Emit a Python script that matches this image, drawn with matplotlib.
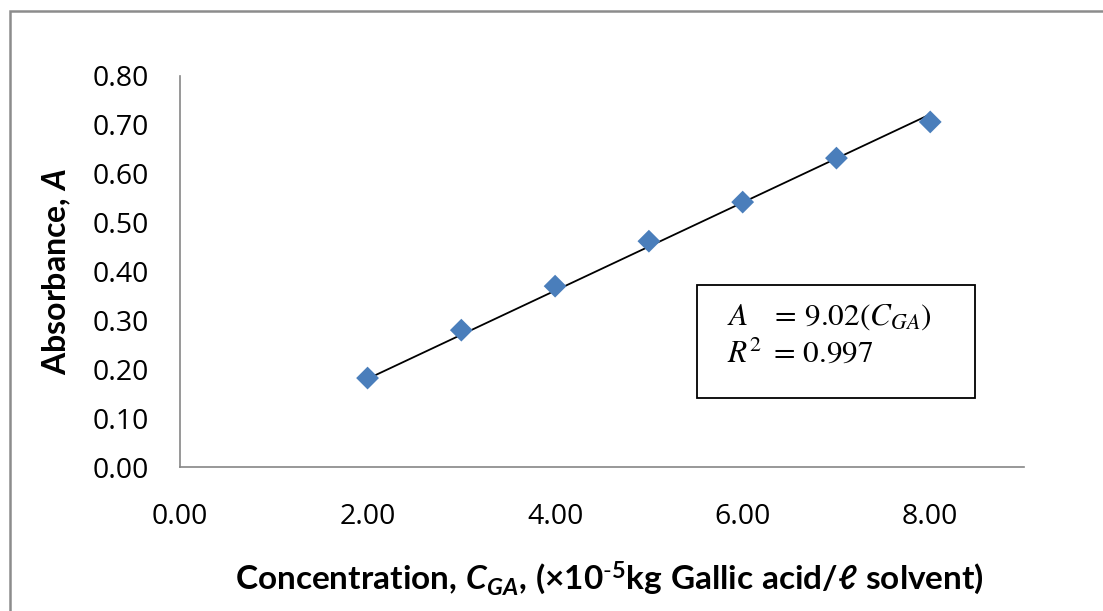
import matplotlib
matplotlib.use("Agg")
import matplotlib.pyplot as plt
from matplotlib.patches import Rectangle

# Data
conc = [2, 3, 4, 5, 6, 7, 8]
absorb = [0.182, 0.280, 0.370, 0.462, 0.542, 0.632, 0.706]
slope = 0.0902
fit_x = [2, 8]
xticks = [0, 2, 4, 6, 8]
yticks = [0.0, 0.1, 0.2, 0.3, 0.4, 0.5, 0.6, 0.7, 0.8]

plt.rcParams['font.family'] = ['Lato', 'DejaVu Sans']
plt.rcParams['mathtext.fontset'] = 'custom'
plt.rcParams['mathtext.rm'] = 'Lato'
plt.rcParams['mathtext.it'] = 'Lato:italic'
plt.rcParams['mathtext.bf'] = 'Lato:bold'
plt.rcParams['mathtext.bfit'] = 'Lato:bold:italic'

fig = plt.figure(figsize=(11.03, 6.11), dpi=100)
ax = fig.add_axes([180/1103, 1-467/611, (1024-180)/1103, (467-76)/611])

# figure border
fig.patches.append(Rectangle((10/1103, -0.05), 1.2, 1.05 - 11/611, transform=fig.transFigure,
                             fill=False, edgecolor='#8c8c8c', linewidth=1.8))

fy = [slope * v for v in fit_x]
ax.plot(fit_x, fy, color='black', linewidth=1.3, zorder=2)
ax.scatter(conc, absorb, marker='D', s=135, color='#4a7ebb', edgecolors='none', zorder=3)

ax.set_xlim(0, 9)
ax.set_ylim(0, 0.8)
ax.set_xticks(xticks)
ax.set_yticks(yticks)
ax.set_xticklabels([f"{v:.2f}" for v in xticks], fontfamily='Open Sans', fontsize=20.5)
ax.set_yticklabels([f"{v:.2f}" for v in yticks], fontfamily='Open Sans', fontsize=20.5)
ax.tick_params(axis='both', length=0)
ax.tick_params(axis='y', pad=22)
ax.tick_params(axis='x', pad=26)

for s in ['top', 'right']:
    ax.spines[s].set_visible(False)
for s in ['left', 'bottom']:
    ax.spines[s].set_color('#868686')
    ax.spines[s].set_linewidth(1.2)

ax.set_xlabel(r'$\mathbf{Concentration,}\,\mathbfit{C}_{\mathbfit{GA}}\mathbf{,}\ \mathbf{(\times 10^{\text{-}5}kg\ Gallic\ acid/\ell\ solvent)}$',
              fontsize=24)
ax.set_ylabel(r'Absorbance, $\mathbfit{A}$', fontsize=23, fontweight='bold')
ax.xaxis.set_label_coords((609-180)/844, -(578-467)/391)
ax.xaxis.label.set_va('center')
ax.yaxis.set_label_coords(-(180-57)/844, (467-272)/391)
ax.yaxis.label.set_va('center')
ax.yaxis.label.set_ha('center')

# equation box
bx0, by0, bx1, by1 = 697/1103, 1-398/611, 975/1103, 1-285/611
fig.patches.append(Rectangle((bx0, by0), bx1-bx0, by1-by0, transform=fig.transFigure,
                             fill=False, edgecolor='black', linewidth=1.3))
fig.text(727/1103, 1-325/611, r'$A\quad =\,9.02(C_{GA})$', math_fontfamily='stix', fontsize=22.5,
         va='baseline', ha='left')
fig.text(727/1103, 1-362/611, r'$R^2\;=\,0.997$', math_fontfamily='stix', fontsize=22.5,
         va='baseline', ha='left')

fig.savefig('out.png', dpi=100)
